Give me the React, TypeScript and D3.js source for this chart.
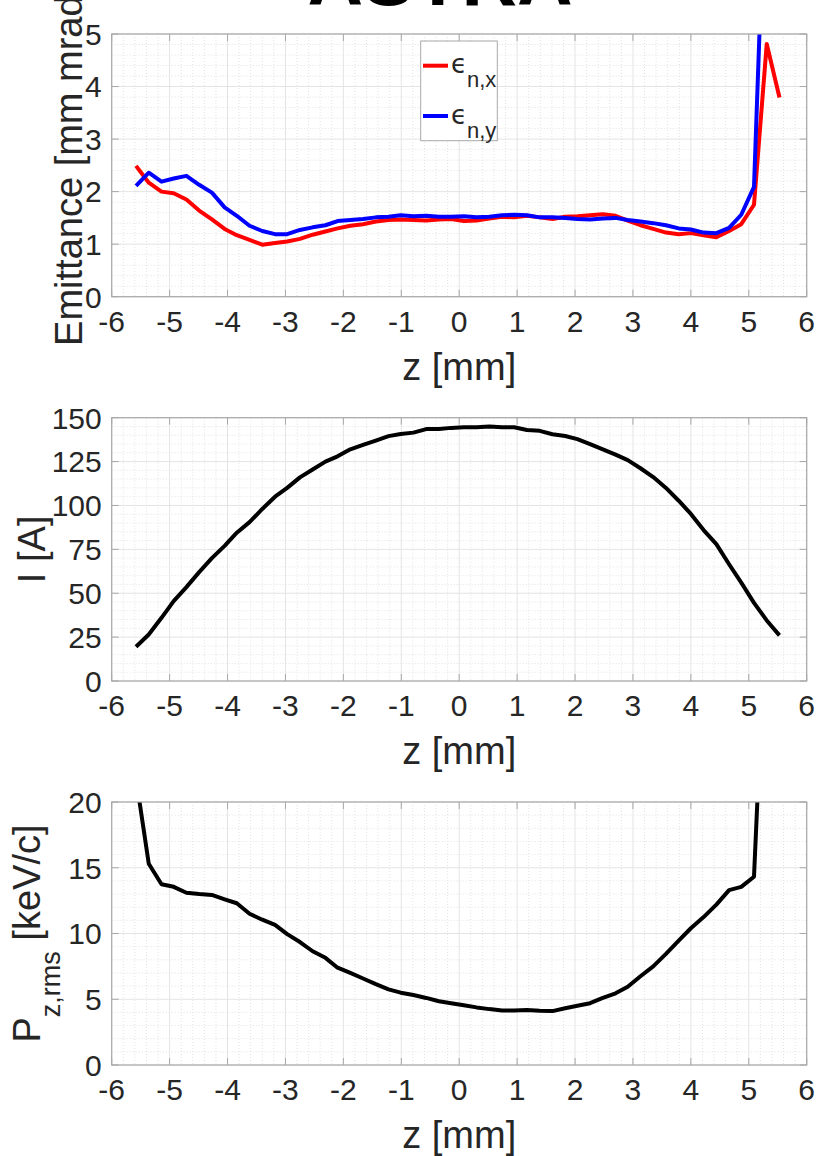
import React from 'react';
import * as d3 from 'd3';

// ---------- data ----------
const zPos = [
  -5.58, -5.36, -5.14, -4.93, -4.71, -4.49, -4.27, -4.05, -3.84, -3.62,
  -3.40, -3.18, -2.97, -2.75, -2.53, -2.31, -2.10, -1.88, -1.66, -1.44,
  -1.22, -1.01, -0.79, -0.57, -0.35, -0.14, 0.08, 0.30, 0.52, 0.74,
  0.95, 1.17, 1.39, 1.61, 1.83, 2.04, 2.26, 2.48, 2.70, 2.91,
  3.13, 3.35, 3.57, 3.79, 4.00, 4.22, 4.44, 4.66, 4.87, 5.09,
  5.31, 5.53,
];

const emitX = [
  2.49, 2.17, 2.00, 1.97, 1.85, 1.64, 1.47, 1.29, 1.17, 1.08,
  0.99, 1.02, 1.05, 1.10, 1.18, 1.24, 1.30, 1.35, 1.38, 1.43,
  1.46, 1.47, 1.46, 1.45, 1.47, 1.48, 1.44, 1.45, 1.49, 1.52,
  1.51, 1.54, 1.51, 1.48, 1.52, 1.53, 1.55, 1.57, 1.54, 1.45,
  1.36, 1.29, 1.22, 1.19, 1.21, 1.17, 1.13, 1.25, 1.38, 1.75,
  4.81, 3.79,
];

const emitY = [
  2.11, 2.36, 2.19, 2.25, 2.30, 2.13, 1.98, 1.70, 1.54, 1.35,
  1.25, 1.19, 1.19, 1.27, 1.32, 1.36, 1.44, 1.46, 1.48, 1.51,
  1.52, 1.55, 1.53, 1.54, 1.52, 1.52, 1.53, 1.51, 1.52, 1.55,
  1.56, 1.55, 1.51, 1.51, 1.50, 1.48, 1.47, 1.49, 1.50, 1.46,
  1.43, 1.40, 1.36, 1.30, 1.28, 1.22, 1.21, 1.31, 1.56, 2.09,
  8.90, 9.20,
];

const current = [
  19.5, 26.5, 36.0, 45.5, 53.5, 62.0, 70.0, 77.0, 84.5, 90.5,
  98.0, 105.0, 110.0, 116.0, 120.5, 125.0, 128.0, 132.0, 134.5, 137.0,
  139.5, 140.7, 141.5, 143.5, 143.6, 144.2, 144.5, 144.5, 145.0, 144.5,
  144.6, 143.0, 142.5, 140.6, 139.6, 137.8, 135.0, 132.0, 129.0, 125.8,
  121.2, 116.2, 110.0, 102.7, 95.2, 86.0, 78.0, 66.5, 56.0, 44.5,
  34.5, 26.0,
];

const pzRms = [
  21.8, 15.3, 13.75, 13.55, 13.1, 13.0, 12.93, 12.6, 12.3, 11.5,
  11.05, 10.65, 9.95, 9.35, 8.65, 8.15, 7.4, 7.0, 6.58, 6.15,
  5.75, 5.5, 5.32, 5.1, 4.85, 4.7, 4.55, 4.38, 4.25, 4.15,
  4.15, 4.18, 4.12, 4.1, 4.32, 4.5, 4.7, 5.1, 5.45, 5.95,
  6.75, 7.5, 8.45, 9.45, 10.4, 11.25, 12.2, 13.3, 13.55, 14.32,
  36.0, 40.0,
];

const xTicks = [-6, -5, -4, -3, -2, -1, 0, 1, 2, 3, 4, 5, 6];
const emitTicks = [0, 1, 2, 3, 4, 5];
const currentTicks = [0, 25, 50, 75, 100, 125, 150];
const pzTicks = [0, 5, 10, 15, 20];

// ---------- layout ----------
const W = 821;
const H = 1156;
const LEFT = 111.7;
const RIGHT = 806.7;
const FONT = "'Liberation Sans', Arial, Helvetica, sans-serif";
const TICK_FS = 30;
const LABEL_FS = 38;
const TXT = '#262626';
const BOX = '#a8a8a8';

type Series = { values: number[]; color: string };

function Panel(props: {
  id: string;
  top: number;
  bottom: number;
  yDomain: [number, number];
  yTicks: number[];
  yMinorStep: number;
  series: Series[];
  yLabel: React.ReactNode;
}) {
  const { id, top, bottom, yDomain, yTicks, yMinorStep, series, yLabel } = props;
  const x = d3.scaleLinear().domain([-6, 6]).range([LEFT, RIGHT]);
  const y = d3.scaleLinear().domain(yDomain).range([bottom, top]);
  const xMinor = d3.range(-6, 6.0001, 0.2).filter((v) => Math.abs(v - Math.round(v)) > 1e-6);
  const yMinor = d3
    .range(yDomain[0], yDomain[1] + 1e-9, yMinorStep)
    .filter((v) => !yTicks.some((t) => Math.abs(t - v) < 1e-6));
  const line = d3
    .line<number>()
    .x((_, i) => x(zPos[i]))
    .y((d) => y(d));
  const TL = 7;
  return (
    <g>
      <defs>
        <clipPath id={id}>
          <rect x={LEFT} y={top} width={RIGHT - LEFT} height={bottom - top} />
        </clipPath>
      </defs>
      <rect x={LEFT} y={top} width={RIGHT - LEFT} height={bottom - top} fill="#fff" />
      {xMinor.map((v) => (
        <line key={'xm' + v} x1={x(v)} x2={x(v)} y1={top} y2={bottom} stroke="#e2e2e2" strokeWidth={1} strokeDasharray="1 2" />
      ))}
      {yMinor.map((v) => (
        <line key={'ym' + v} x1={LEFT} x2={RIGHT} y1={y(v)} y2={y(v)} stroke="#e2e2e2" strokeWidth={1} strokeDasharray="1 2" />
      ))}
      {xTicks.map((v) => (
        <line key={'xg' + v} x1={x(v)} x2={x(v)} y1={top} y2={bottom} stroke="#e4e4e4" strokeWidth={1} />
      ))}
      {yTicks.map((v) => (
        <line key={'yg' + v} x1={LEFT} x2={RIGHT} y1={y(v)} y2={y(v)} stroke="#e4e4e4" strokeWidth={1} />
      ))}
      <g clipPath={`url(#${id})`}>
        {series.map((s, i) => (
          <path key={i} d={line(s.values) || ''} fill="none" stroke={s.color} strokeWidth={4} strokeLinejoin="round" />
        ))}
      </g>
      <rect x={LEFT} y={top} width={RIGHT - LEFT} height={bottom - top} fill="none" stroke={BOX} strokeWidth={1.2} />
      {xTicks.map((v) => (
        <g key={'xt' + v}>
          <line x1={x(v)} x2={x(v)} y1={bottom} y2={bottom - TL} stroke={BOX} />
          <line x1={x(v)} x2={x(v)} y1={top} y2={top + TL} stroke={BOX} />
          <text x={x(v)} y={bottom + 35} textAnchor="middle" fontSize={TICK_FS} fill={TXT} fontFamily={FONT}>
            {String(v)}
          </text>
        </g>
      ))}
      {yTicks.map((v) => (
        <g key={'yt' + v}>
          <line x1={LEFT} x2={LEFT + TL} y1={y(v)} y2={y(v)} stroke={BOX} />
          <line x1={RIGHT} x2={RIGHT - TL} y1={y(v)} y2={y(v)} stroke={BOX} />
          <text x={LEFT - 10} y={y(v)} dy="0.36em" textAnchor="end" fontSize={TICK_FS} fill={TXT} fontFamily={FONT}>
            {String(v)}
          </text>
        </g>
      ))}
      <text x={(LEFT + RIGHT) / 2} y={bottom + 83} textAnchor="middle" fontSize={LABEL_FS} fill={TXT} fontFamily={FONT}>
        z [mm]
      </text>
      {yLabel}
    </g>
  );
}

export default function App() {
  const mid1 = (34 + 296.7) / 2;
  const mid2 = (417.7 + 681) / 2;
  const mid3 = (802 + 1065) / 2;
  return (
    <svg width={W} height={H} viewBox={`0 0 ${W} ${H}`} style={{ position: 'absolute', left: 0, top: 0, background: '#fff' }}>
      <rect x={0} y={0} width={W} height={H} fill="#fff" />
      <text x={440} y={5} textAnchor="middle" fontSize={77} fontWeight="bold" fill="#000" fontFamily={FONT}>
        ASTRA
      </text>

      <Panel
        id="clip1"
        top={34}
        bottom={296.7}
        yDomain={[0, 5]}
        yTicks={emitTicks}
        yMinorStep={0.2}
        series={[
          { values: emitX, color: '#ff0000' },
          { values: emitY, color: '#0000ff' },
        ]}
        yLabel={
          <text transform={`translate(82,${mid1}) rotate(-90)`} textAnchor="middle" fontSize={LABEL_FS} fill={TXT} fontFamily={FONT}>
            Emittance [mm mrad]
          </text>
        }
      />

      {/* legend */}
      <g>
        <rect x={420.7} y={41} width={76.6} height={99.7} fill="#fff" stroke={BOX} strokeWidth={1} />
        <line x1={423} x2={448} y1={65.7} y2={65.7} stroke="#ff0000" strokeWidth={4} />
        <text x={451} y={73} fontSize={26} fill={TXT} fontFamily={`'DejaVu Sans', ${FONT}`}>
          ϵ
          <tspan fontFamily={FONT} fontSize={22} dy={14}>n,x</tspan>
        </text>
        <line x1={423} x2={448} y1={116} y2={116} stroke="#0000ff" strokeWidth={4} />
        <text x={451} y={124} fontSize={26} fill={TXT} fontFamily={`'DejaVu Sans', ${FONT}`}>
          ϵ
          <tspan fontFamily={FONT} fontSize={22} dy={14}>n,y</tspan>
        </text>
      </g>

      <Panel
        id="clip2"
        top={417.7}
        bottom={681}
        yDomain={[0, 150]}
        yTicks={currentTicks}
        yMinorStep={5}
        series={[{ values: current, color: '#000000' }]}
        yLabel={
          <text transform={`translate(45,${mid2}) rotate(-90)`} textAnchor="middle" fontSize={LABEL_FS} fill={TXT} fontFamily={FONT}>
            I [A]
          </text>
        }
      />

      <Panel
        id="clip3"
        top={802}
        bottom={1065}
        yDomain={[0, 20]}
        yTicks={pzTicks}
        yMinorStep={1}
        series={[{ values: pzRms, color: '#000000' }]}
        yLabel={
          <text transform={`translate(40,${mid3}) rotate(-90)`} textAnchor="middle" fontSize={LABEL_FS} fill={TXT} fontFamily={FONT}>
            P
            <tspan fontSize={27} dy={20}>z,rms</tspan>
            <tspan dy={-20}> [keV/c]</tspan>
          </text>
        }
      />
    </svg>
  );
}
